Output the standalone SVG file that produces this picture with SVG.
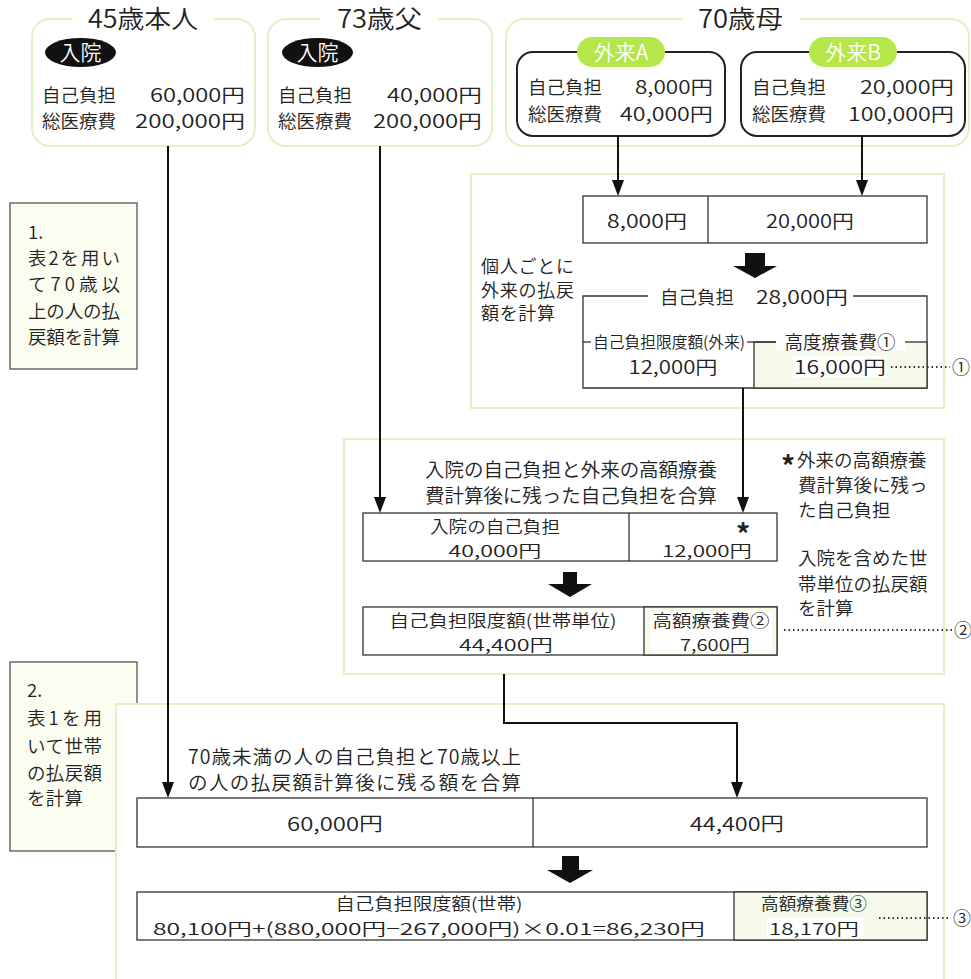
<svg xmlns="http://www.w3.org/2000/svg" width="971" height="979" viewBox="0 0 971 979">
<style>
.g{fill:#fff;stroke:#e0f2c4;stroke-width:2}
.t{font-family:"Noto Sans CJK JP","Noto Sans",sans-serif;fill:#222;font-weight:350}
.w{fill:#fff}
.m{text-anchor:middle}
.e{text-anchor:end}
.tb{fill:#fff;stroke:#333;stroke-width:1.3}
.ln{stroke:#333;stroke-width:1.3;fill:none}
.cell{fill:#f5faea;stroke:#333;stroke-width:1.3}
.side{fill:#fafdf0;stroke:#555;stroke-width:1.3}
.cn{stroke:#111;stroke-width:2;fill:none}
.dot{stroke:#333;stroke-width:2;stroke-dasharray:1.5 3;fill:none}
.pill{fill:#b5e64a}
.ba{fill:#111}
</style>
<defs>
<marker id="ah" markerUnits="userSpaceOnUse" markerWidth="16" markerHeight="12" refX="8" refY="6" orient="auto">
<path d="M0,0 L16,6 L0,12 z" fill="#111"/>
</marker>
</defs>

<!-- side notes -->
<g id="note1">
<rect class="side" x="10" y="203" width="127" height="166"/>
<text class="t" font-size="18.5" x="28" y="239">1.</text>
<text class="t" font-size="18.5" x="28" y="265" textLength="92" lengthAdjust="spacing">表2を用い</text>
<text class="t" font-size="18.5" x="28" y="291" textLength="92" lengthAdjust="spacing">て70歳以</text>
<text class="t" font-size="18.5" x="28" y="318" textLength="92" lengthAdjust="spacing">上の人の払</text>
<text class="t" font-size="18.5" x="28" y="344" textLength="92" lengthAdjust="spacing">戻額を計算</text>
</g>
<g id="note2">
<rect class="side" x="10" y="662" width="127" height="189"/>
<text class="t" font-size="18.5" x="27" y="697">2.</text>
<text class="t" font-size="18.5" x="27" y="725" textLength="75" lengthAdjust="spacing">表1を用</text>
<text class="t" font-size="18.5" x="27" y="753" textLength="75" lengthAdjust="spacing">いて世帯</text>
<text class="t" font-size="18.5" x="27" y="780" textLength="75" lengthAdjust="spacing">の払戻額</text>
<text class="t" font-size="18.5" x="27" y="805" textLength="56" lengthAdjust="spacing">を計算</text>
</g>

<!-- green frames -->
<g id="frame1"><rect class="g" x="471" y="174" width="473" height="234"/></g>
<g id="frame2"><rect class="g" x="344" y="439" width="600" height="235"/></g>
<g id="frame3"><rect class="g" x="116" y="704" width="828" height="300"/></g>

<!-- top persons -->
<g id="self45">
<rect class="g" x="32" y="19" width="223" height="127" rx="18"/>
<rect class="w" x="72" y="12" width="142" height="14"/>
<text class="t m" font-size="25" x="143" y="28" textLength="110" lengthAdjust="spacingAndGlyphs">45歳本人</text>
<ellipse cx="80.5" cy="52.5" rx="35.5" ry="14.5" fill="#111"/>
<text class="t m" font-size="21" x="80.5" y="60" style="fill:#fff">入院</text>
<text class="t" font-size="18.5" x="42" y="102">自己負担</text>
<text class="t" font-size="18.5" x="42" y="128">総医療費</text>
<text class="t e" font-size="18.5" x="245" y="102" textLength="95" lengthAdjust="spacingAndGlyphs">60,000円</text>
<text class="t e" font-size="18.5" x="245" y="128" textLength="110" lengthAdjust="spacingAndGlyphs">200,000円</text>
</g>
<g id="father73">
<rect class="g" x="268" y="19" width="224" height="127" rx="18"/>
<rect class="w" x="320" y="12" width="118" height="14"/>
<text class="t m" font-size="25" x="379.5" y="28" textLength="85" lengthAdjust="spacingAndGlyphs">73歳父</text>
<ellipse cx="317.5" cy="52.5" rx="35.5" ry="14.5" fill="#111"/>
<text class="t m" font-size="21" x="317.5" y="60" style="fill:#fff">入院</text>
<text class="t" font-size="18.5" x="278" y="102">自己負担</text>
<text class="t" font-size="18.5" x="278" y="128">総医療費</text>
<text class="t e" font-size="18.5" x="482" y="102" textLength="95" lengthAdjust="spacingAndGlyphs">40,000円</text>
<text class="t e" font-size="18.5" x="482" y="128" textLength="109" lengthAdjust="spacingAndGlyphs">200,000円</text>
</g>
<g id="mother70">
<rect class="g" x="506" y="19" width="463" height="127" rx="18"/>
<rect class="w" x="683" y="12" width="117" height="14"/>
<text class="t m" font-size="25" x="740.5" y="28" textLength="85" lengthAdjust="spacingAndGlyphs">70歳母</text>
</g>
<g id="outA">
<rect x="517" y="52" width="208" height="84" rx="16" fill="#fff" stroke="#222" stroke-width="2"/>
<rect class="pill" x="577" y="37" width="88" height="30" rx="15"/>
<text class="t m" font-size="21" x="621" y="59.5" style="fill:#fff">外来A</text>
<text class="t" font-size="18.5" x="528" y="94">自己負担</text>
<text class="t" font-size="18.5" x="528" y="121">総医療費</text>
<text class="t e" font-size="18.5" x="713" y="94" textLength="78" lengthAdjust="spacingAndGlyphs">8,000円</text>
<text class="t e" font-size="18.5" x="713" y="121" textLength="93" lengthAdjust="spacingAndGlyphs">40,000円</text>
</g>
<g id="outB">
<rect x="741" y="52" width="224" height="84" rx="16" fill="#fff" stroke="#222" stroke-width="2"/>
<rect class="pill" x="809" y="37" width="88" height="30" rx="15"/>
<text class="t m" font-size="21" x="853" y="59.5" style="fill:#fff">外来B</text>
<text class="t" font-size="18.5" x="752" y="94">自己負担</text>
<text class="t" font-size="18.5" x="752" y="121">総医療費</text>
<text class="t e" font-size="18.5" x="954" y="94" textLength="94" lengthAdjust="spacingAndGlyphs">20,000円</text>
<text class="t e" font-size="18.5" x="954" y="121" textLength="106" lengthAdjust="spacingAndGlyphs">100,000円</text>
</g>

<!-- step 1 -->
<g id="outSum">
<rect class="tb" x="583" y="196" width="344" height="47"/>
<line class="ln" x1="708" y1="196" x2="708" y2="243"/>
<text class="t m" font-size="18.5" x="647" y="228" textLength="80" lengthAdjust="spacingAndGlyphs">8,000円</text>
<text class="t m" font-size="18.5" x="810" y="228" textLength="88" lengthAdjust="spacingAndGlyphs">20,000円</text>
</g>
<g id="arrow1"><polygon class="ba" points="745,253 765,253 765,266 777,266 755,278 733,266 745,266"/></g>
<g id="note-step1">
<text class="t" font-size="18" x="481" y="273" textLength="93" lengthAdjust="spacing">個人ごとに</text>
<text class="t" font-size="18" x="481" y="297" textLength="93" lengthAdjust="spacing">外来の払戻</text>
<text class="t" font-size="18" x="481" y="320" textLength="74" lengthAdjust="spacing">額を計算</text>
</g>
<g id="outCalc">
<path class="ln" d="M648,296 H583 V388 H927 V296 H853"/>
<text class="t" font-size="18.5" x="660" y="304">自己負担</text>
<text class="t e" font-size="18.5" x="848" y="304" textLength="92" lengthAdjust="spacingAndGlyphs">28,000円</text>
<rect class="cell" x="754" y="342" width="173" height="46"/>
<line class="ln" x1="583" y1="342" x2="591" y2="342"/>
<line class="ln" x1="747" y1="342" x2="776" y2="342"/>
<text class="t m" font-size="16" x="669" y="348" textLength="152" lengthAdjust="spacingAndGlyphs">自己負担限度額(外来)</text>
<rect class="w" x="776" y="334" width="129" height="17"/>
<text class="t m" font-size="18.5" x="840" y="349">高度療養費①</text>
<text class="t m" font-size="18.5" x="673" y="374" textLength="89" lengthAdjust="spacingAndGlyphs">12,000円</text>
<rect class="w" x="793" y="356" width="94" height="21"/>
<text class="t m" font-size="18.5" x="840" y="374" textLength="92" lengthAdjust="spacingAndGlyphs">16,000円</text>
<line class="dot" x1="891" y1="367" x2="950" y2="367"/>
<text class="t m" font-size="18" x="961" y="374">①</text>
</g>

<!-- step 2 -->
<g id="note-step2">
<text class="t m" font-size="19.5" x="571" y="477" textLength="292" lengthAdjust="spacing">入院の自己負担と外来の高額療養</text>
<text class="t m" font-size="19.5" x="571" y="503" textLength="292" lengthAdjust="spacing">費計算後に残った自己負担を合算</text>
<text class="t" font-size="28" x="781" y="477" style="font-weight:700">*</text>
<text class="t" font-size="18.5" x="797" y="467">外来の高額療養</text>
<text class="t" font-size="18.5" x="798" y="492">費計算後に残っ</text>
<text class="t" font-size="18.5" x="798" y="517">た自己負担</text>
<text class="t" font-size="18.5" x="798" y="565">入院を含めた世</text>
<text class="t" font-size="18.5" x="798" y="591">帯単位の払戻額</text>
<text class="t" font-size="18.5" x="798" y="615">を計算</text>
</g>
<g id="houseSum">
<rect class="tb" x="363" y="513" width="414" height="48"/>
<line class="ln" x1="629" y1="513" x2="629" y2="561"/>
<text class="t m" font-size="16.5" x="495" y="533" textLength="130" lengthAdjust="spacingAndGlyphs">入院の自己負担</text>
<text class="t m" font-size="16.5" x="495" y="557" textLength="93" lengthAdjust="spacingAndGlyphs">40,000円</text>
<text class="t m" font-size="28" x="743" y="545" style="font-weight:700">*</text>
<text class="t m" font-size="16.5" x="707" y="557" textLength="90" lengthAdjust="spacingAndGlyphs">12,000円</text>
</g>
<g id="arrow2"><polygon class="ba" points="563,572 577,572 577,584 592,584 570,597 548,584 563,584"/></g>
<g id="houseCalc">
<rect class="tb" x="363" y="607" width="414" height="48"/>
<rect class="cell" x="644" y="607" width="133" height="48"/>
<rect class="w" x="650" y="611" width="122" height="40"/>
<text class="t m" font-size="16.5" x="503" y="627" textLength="227" lengthAdjust="spacingAndGlyphs">自己負担限度額(世帯単位)</text>
<text class="t m" font-size="16.5" x="506" y="651" textLength="94" lengthAdjust="spacingAndGlyphs">44,400円</text>
<text class="t m" font-size="16.5" x="711" y="627" textLength="117" lengthAdjust="spacingAndGlyphs">高額療養費②</text>
<text class="t m" font-size="16.5" x="715" y="651" textLength="70" lengthAdjust="spacingAndGlyphs">7,600円</text>
<line class="dot" x1="784" y1="630" x2="952" y2="630"/>
<text class="t m" font-size="18" x="963" y="637">②</text>
</g>

<!-- step 3 -->
<g id="note-step3">
<text class="t" font-size="19.5" x="188" y="764" textLength="333" lengthAdjust="spacing">70歳未満の人の自己負担と70歳以上</text>
<text class="t" font-size="19.5" x="188" y="790" textLength="333" lengthAdjust="spacing">の人の払戻額計算後に残る額を合算</text>
</g>
<g id="familySum">
<rect class="tb" x="137" y="798" width="790" height="49"/>
<line class="ln" x1="533" y1="798" x2="533" y2="847"/>
<text class="t m" font-size="19" x="335" y="831" textLength="96" lengthAdjust="spacingAndGlyphs">60,000円</text>
<text class="t m" font-size="19" x="737" y="831" textLength="94" lengthAdjust="spacingAndGlyphs">44,400円</text>
</g>
<g id="arrow3"><polygon class="ba" points="562,856 579,856 579,870 593,870 570,883 547,870 562,870"/></g>
<g id="familyCalc">
<rect class="tb" x="137" y="892" width="790" height="48"/>
<rect class="cell" x="734" y="892" width="193" height="48"/>
<text class="t m" font-size="16.5" x="429" y="910" textLength="187" lengthAdjust="spacingAndGlyphs">自己負担限度額(世帯)</text>
<text class="t m" font-size="16.5" x="429" y="935" textLength="552" lengthAdjust="spacingAndGlyphs">80,100円+(880,000円−267,000円)×0.01=86,230円</text>
<text class="t m" font-size="16.5" x="814" y="910" textLength="106" lengthAdjust="spacingAndGlyphs">高額療養費③</text>
<rect class="w" x="767" y="917" width="96" height="21"/>
<text class="t m" font-size="16.5" x="814" y="935" textLength="90" lengthAdjust="spacingAndGlyphs">18,170円</text>
<line class="dot" x1="879" y1="918" x2="950" y2="918"/>
<text class="t m" font-size="18" x="962" y="925">③</text>
</g>

<!-- connectors -->
<g id="connectors">
<line class="cn" x1="618" y1="136" x2="618" y2="188" marker-end="url(#ah)"/>
<line class="cn" x1="862" y1="136" x2="862" y2="188" marker-end="url(#ah)"/>
<line class="cn" x1="168" y1="146" x2="168" y2="790" marker-end="url(#ah)"/>
<line class="cn" x1="380" y1="146" x2="380" y2="505" marker-end="url(#ah)"/>
<line class="cn" x1="743" y1="388" x2="743" y2="505" marker-end="url(#ah)"/>
<path class="cn" d="M504,674 V723 H737 V790" marker-end="url(#ah)"/>
</g>
</svg>
